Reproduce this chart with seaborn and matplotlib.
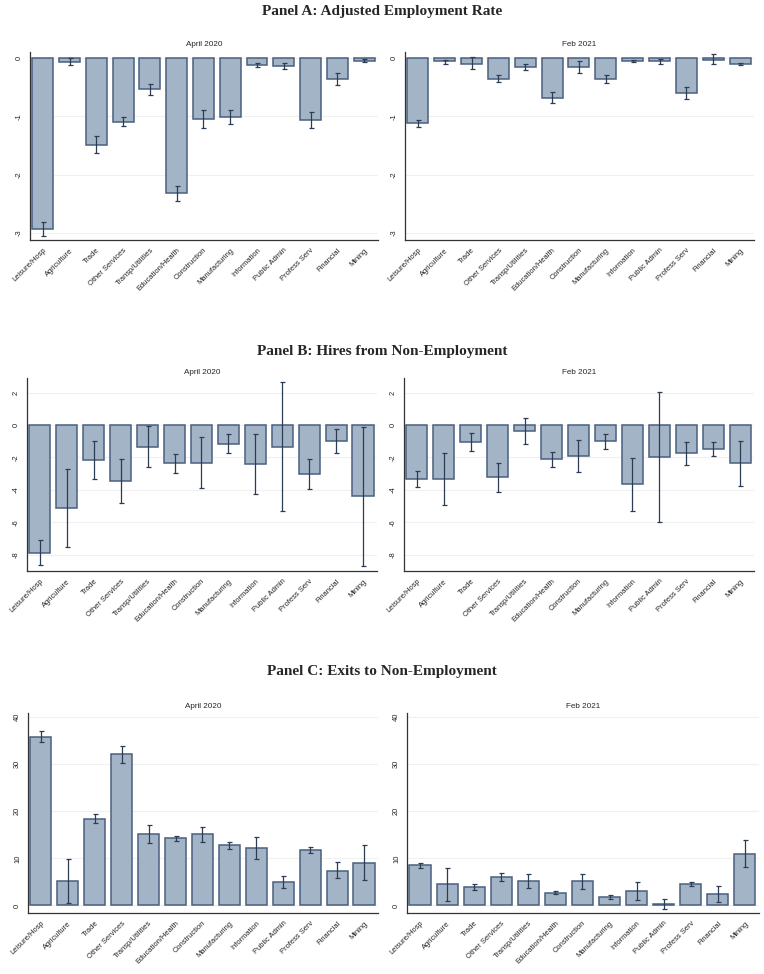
import numpy as np
import pandas as pd
import seaborn as sns
import matplotlib.pyplot as plt

sectors = ['Leisure/Hosp', 'Agriculture', 'Trade', 'Other Services', 'Transp/Utilities',
           'Education/Health', 'Construction', 'Manufacturing', 'Information',
           'Public Admin', 'Profess Serv', 'Financial', 'Mining']

# Panel A: adjusted employment rate
emp_apr = [-2.93, -0.07, -1.49, -1.10, -0.54, -2.31, -1.05, -1.01, -0.13, -0.14, -1.06, -0.36, -0.05]
emp_apr_lo = [-3.05, -0.13, -1.63, -1.17, -0.64, -2.46, -1.20, -1.14, -0.15, -0.19, -1.20, -0.46, -0.07]
emp_apr_hi = [-2.82, 0.00, -1.34, -1.02, -0.45, -2.19, -0.90, -0.90, -0.09, -0.09, -0.93, -0.26, -0.02]
emp_feb = [-1.11, -0.06, -0.10, -0.36, -0.15, -0.69, -0.15, -0.36, -0.06, -0.06, -0.60, -0.03, -0.10]
emp_feb_lo = [-1.18, -0.10, -0.19, -0.42, -0.21, -0.78, -0.26, -0.43, -0.07, -0.10, -0.71, -0.11, -0.12]
emp_feb_hi = [-1.06, -0.03, 0.02, -0.30, -0.10, -0.59, -0.05, -0.29, -0.04, -0.02, -0.50, 0.06, -0.09]

# Panel B: hires from non-employment
hir_apr = [-7.86, -5.09, -2.15, -3.45, -1.33, -2.36, -2.32, -1.17, -2.42, -1.33, -3.04, -0.98, -4.37]
hir_apr_lo = [-8.62, -7.49, -3.32, -4.82, -2.56, -2.93, -3.90, -1.74, -4.27, -5.33, -3.96, -1.74, -8.72]
hir_apr_hi = [-7.08, -2.73, -0.96, -2.09, -0.06, -1.78, -0.72, -0.57, -0.57, 2.67, -2.11, -0.27, -0.14]
hir_feb = [-3.32, -3.32, -1.07, -3.22, -0.37, -2.11, -1.91, -1.01, -3.63, -1.99, -1.74, -1.46, -2.36]
hir_feb_lo = [-3.79, -4.92, -1.60, -4.10, -1.19, -2.61, -2.89, -1.46, -5.27, -5.99, -2.46, -1.89, -3.73]
hir_feb_hi = [-2.83, -1.74, -0.51, -2.36, 0.41, -1.68, -0.92, -0.57, -2.05, 2.01, -1.07, -1.07, -0.98]

# Panel C: exits to non-employment
exi_apr = [35.9, 5.2, 18.4, 32.1, 15.2, 14.3, 15.1, 12.8, 12.2, 5.0, 11.8, 7.4, 9.1]
exi_apr_lo = [34.8, 0.6, 17.6, 30.2, 13.3, 13.7, 13.5, 12.0, 9.8, 3.8, 11.1, 5.9, 5.4]
exi_apr_hi = [37.1, 9.8, 19.4, 33.9, 17.2, 14.8, 16.7, 13.5, 14.6, 6.2, 12.5, 9.2, 12.8]
exi_feb = [8.5, 4.5, 3.9, 6.1, 5.2, 2.7, 5.2, 1.8, 3.0, 0.3, 4.5, 2.5, 11.0]
exi_feb_lo = [7.9, 0.9, 3.3, 5.2, 3.7, 2.4, 3.6, 1.3, 1.1, -0.7, 4.1, 0.8, 8.1]
exi_feb_hi = [9.1, 8.0, 4.6, 6.9, 6.6, 3.0, 6.6, 2.3, 5.0, 1.3, 5.0, 4.1, 13.9]

panel_titles = ['Panel A: Adjusted Employment Rate',
                'Panel B: Hires from Non-Employment',
                'Panel C: Exits to Non-Employment']
periods = ['April 2020', 'Feb 2021']

sns.set_style('white')
plt.rcParams['font.family'] = ['Liberation Sans', 'DejaVu Sans']

BAR = '#a4b4c7'
EDGE = '#48607e'
ERR = '#2b3d55'

W, H = 764, 974
fig = plt.figure(figsize=(W / 100, H / 100), dpi=100)


def px_axes(l, t, r, b):
    return fig.add_axes([l / W, 1 - b / H, (r - l) / W, (b - t) / H])


panels = [
    dict(data=[(emp_apr, emp_apr_lo, emp_apr_hi), (emp_feb, emp_feb_lo, emp_feb_hi)],
         boxes=[(30, 52, 378, 240), (405, 52, 754, 240)],
         ylim=(-3.12, 0.1), ticks=[0, -1, -2, -3], title_y=12, sub_y=45),
    dict(data=[(hir_apr, hir_apr_lo, hir_apr_hi), (hir_feb, hir_feb_lo, hir_feb_hi)],
         boxes=[(27, 378, 377, 571), (404, 378, 754, 571)],
         ylim=(-9.0, 2.9), ticks=[2, 0, -2, -4, -6, -8], title_y=352, sub_y=372),
    dict(data=[(exi_apr, exi_apr_lo, exi_apr_hi), (exi_feb, exi_feb_lo, exi_feb_hi)],
         boxes=[(28, 713, 378, 913), (407, 713, 759, 913)],
         ylim=(-1.6, 40.9), ticks=[0, 10, 20, 30, 40], title_y=672, sub_y=706),
]

for p, ptitle in zip(panels, panel_titles):
    fig.text(0.5, 1 - p['title_y'] / H, ptitle, ha='center', va='center',
             fontsize=11, fontweight='bold', family=['Liberation Serif', 'DejaVu Serif'])
    for (vals, lo, hi), box, period in zip(p['data'], p['boxes'], periods):
        ax = px_axes(*box)
        df = pd.DataFrame({'sector': sectors, 'value': vals})
        for t in p['ticks']:
            ax.axhline(t, color='#f0f0f0', lw=0.8, zorder=0)
        sns.barplot(data=df, x='sector', y='value', ax=ax, color=BAR,
                    saturation=1, width=0.78, edgecolor=EDGE, linewidth=1.1, zorder=2)
        vals_a = np.array(vals)
        yerr = np.vstack([vals_a - np.array(lo), np.array(hi) - vals_a])
        ax.errorbar(np.arange(len(sectors)), vals_a, yerr=yerr, fmt='none',
                    ecolor=ERR, elinewidth=0.9, capsize=1.8, capthick=0.9, zorder=3)
        ax.set_xlim(-0.48, len(sectors) - 0.48)
        ax.set_ylim(*p['ylim'])
        ax.set_yticks(p['ticks'])
        ax.set_yticklabels([str(t) for t in p['ticks']], rotation=90, va='center', fontsize=5.4)
        ax.set_xticks(np.arange(len(sectors)))
        ax.set_xticklabels(sectors, rotation=45, ha='right', rotation_mode='anchor', fontsize=5.4)
        ax.set_xlabel('')
        ax.set_ylabel('')
        ax.tick_params(axis='both', direction='out', length=3, width=0.8, color='#333333',
                       pad=2, labelcolor='#222222')
        for s in ['top', 'right']:
            ax.spines[s].set_visible(False)
        for s in ['left', 'bottom']:
            ax.spines[s].set_color('#333333')
            ax.spines[s].set_linewidth(0.9)
        cx = (box[0] + box[2]) / 2
        fig.text(cx / W, 1 - p['sub_y'] / H, period, ha='center', va='center', fontsize=5.9)

fig.savefig('out.png', dpi=100, facecolor='white')
